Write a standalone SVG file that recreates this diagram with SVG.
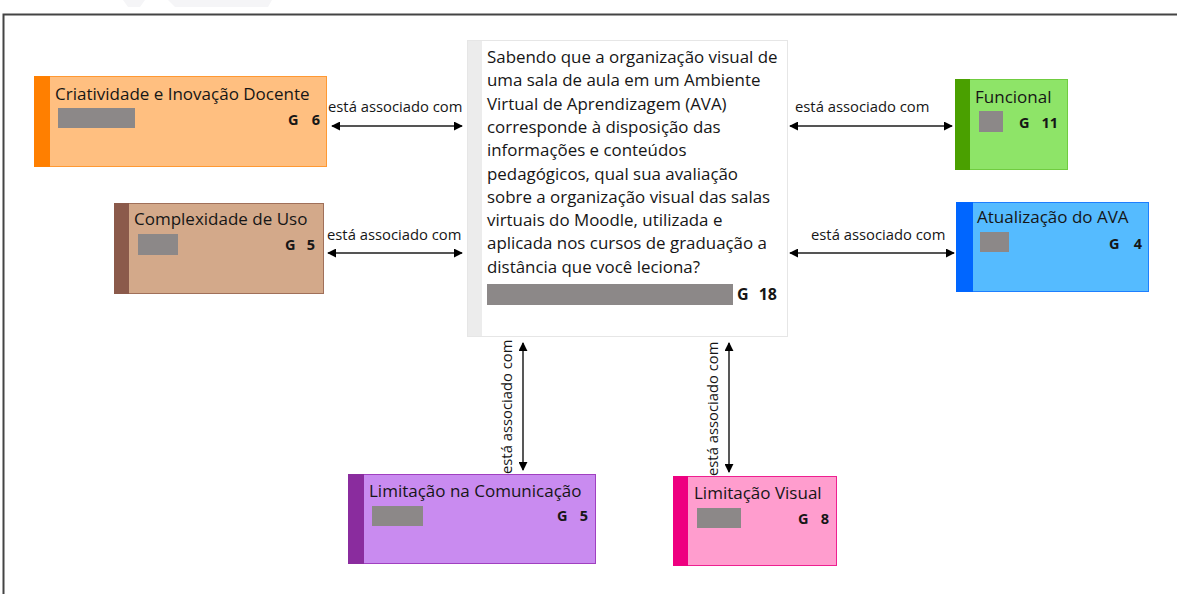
<svg xmlns="http://www.w3.org/2000/svg" width="1177" height="594" viewBox="0 0 1177 594">
<style>
.t{font-family:"Open Sans","Liberation Sans",sans-serif;fill:#161616}
.title{font-size:17px}
.g{font-size:14.5px;font-weight:bold}
.ge{font-size:14.5px;font-weight:bold;text-anchor:end}
.lbl{font-size:14.8px}
.ctr{font-size:16.9px}
.bar{fill:#8c8888}
.conn{stroke:#555;stroke-width:2;fill:none}
.vconn{stroke:#111;stroke-width:1.4;fill:none}
</style>
<defs>
<marker id="ah" viewBox="0 0 10 10" refX="9" refY="5" markerWidth="9" markerHeight="9" markerUnits="userSpaceOnUse" orient="auto-start-reverse">
<path d="M0,0 L10,5 L0,10 z" fill="#000"/>
</marker>
</defs>
<rect width="1177" height="594" fill="#fff"/>
<polygon points="123,0 145,0 140,7 128,7" fill="#f5f5f7"/>
<polygon points="168,0 272,0 268,7 175,7" fill="#f5f5f7"/>
<path d="M3.5,594 V14.5 H1177" fill="none" stroke="#444" stroke-width="2"/>

<g id="connectors">
<line class="conn" x1="332" y1="126" x2="462" y2="126" marker-start="url(#ah)" marker-end="url(#ah)"/>
<text class="t lbl" x="328" y="112">está associado com</text>
<line class="conn" x1="328" y1="253" x2="462" y2="253" marker-start="url(#ah)" marker-end="url(#ah)"/>
<text class="t lbl" x="327" y="240">está associado com</text>
<line class="conn" x1="790" y1="126" x2="952" y2="126" marker-start="url(#ah)" marker-end="url(#ah)"/>
<text class="t lbl" x="795" y="112">está associado com</text>
<line class="conn" x1="790" y1="253" x2="954" y2="253" marker-start="url(#ah)" marker-end="url(#ah)"/>
<text class="t lbl" x="811" y="240">está associado com</text>
<line class="vconn" x1="523" y1="343" x2="523" y2="470" marker-start="url(#ah)" marker-end="url(#ah)"/>
<text class="t lbl" transform="translate(512,474) rotate(-90)">está associado com</text>
<line class="vconn" x1="729" y1="343" x2="729" y2="472" marker-start="url(#ah)" marker-end="url(#ah)"/>
<text class="t lbl" transform="translate(718,476) rotate(-90)">está associado com</text>
</g>

<g id="node-center">
<rect x="467.5" y="40.5" width="320" height="296" fill="#fff" stroke="#e6e6e6"/>
<rect x="468" y="41" width="14" height="295" fill="#ececec"/>
<text class="t ctr">
<tspan x="487" y="63">Sabendo que a organização visual de</tspan>
<tspan x="487" y="86.3">uma sala de aula em um Ambiente</tspan>
<tspan x="487" y="109.6">Virtual de Aprendizagem (AVA)</tspan>
<tspan x="487" y="132.9">corresponde à disposição das</tspan>
<tspan x="487" y="156.2">informações e conteúdos</tspan>
<tspan x="487" y="179.5">pedagógicos, qual sua avaliação</tspan>
<tspan x="487" y="202.8">sobre a organização visual das salas</tspan>
<tspan x="487" y="226.1">virtuais do Moodle, utilizada e</tspan>
<tspan x="487" y="249.4">aplicada nos cursos de graduação a</tspan>
<tspan x="487" y="272.7">distância que você leciona?</tspan>
</text>
<rect class="bar" x="487" y="284" width="246" height="21"/>
<text class="t g" x="737" y="300" style="font-size:16px">G</text>
<text class="t ge" x="777" y="300" style="font-size:16px">18</text>
</g>

<g id="node-criatividade">
<rect x="34.5" y="76.5" width="292" height="90" fill="#ffbf80" stroke="#ff9933"/>
<rect x="34" y="76" width="16" height="91" fill="#ff7f00"/>
<text class="t title" x="55" y="100">Criatividade e Inovação Docente</text>
<rect class="bar" x="58" y="108" width="77" height="20"/>
<text class="t g" x="288" y="125">G</text>
<text class="t ge" x="320" y="125">6</text>
</g>

<g id="node-complexidade">
<rect x="114.5" y="203.5" width="209" height="90" fill="#d3a98a" stroke="#a0705a"/>
<rect x="114" y="203" width="15" height="91" fill="#8b5a4b"/>
<text class="t title" x="134" y="225">Complexidade de Uso</text>
<rect class="bar" x="138" y="234" width="40" height="21"/>
<text class="t g" x="285" y="250">G</text>
<text class="t ge" x="315" y="250">5</text>
</g>

<g id="node-funcional">
<rect x="955.5" y="79.5" width="112" height="90" fill="#8ee468" stroke="#70cc40"/>
<rect x="955" y="79" width="15" height="91" fill="#4aa000"/>
<text class="t title" x="975" y="103">Funcional</text>
<rect class="bar" x="979" y="111" width="24" height="21"/>
<text class="t g" x="1019" y="128">G</text>
<text class="t ge" x="1058" y="128">11</text>
</g>

<g id="node-atualizacao">
<rect x="956.5" y="202.5" width="192" height="89" fill="#55bbff" stroke="#1e7fff"/>
<rect x="956" y="202" width="17" height="90" fill="#0066ff"/>
<text class="t title" x="977" y="223">Atualização do AVA</text>
<rect class="bar" x="980" y="232" width="29" height="20"/>
<text class="t g" x="1109" y="249">G</text>
<text class="t ge" x="1142" y="249">4</text>
</g>

<g id="node-comunicacao">
<rect x="348.5" y="474.5" width="247" height="89" fill="#c98bf0" stroke="#a040c0"/>
<rect x="348" y="474" width="16" height="90" fill="#8a2c9e"/>
<text class="t title" x="369" y="497">Limitação na Comunicação</text>
<rect class="bar" x="372" y="506" width="51" height="20"/>
<text class="t g" x="557" y="521">G</text>
<text class="t ge" x="588" y="521">5</text>
</g>

<g id="node-visual">
<rect x="673.5" y="476.5" width="163" height="89" fill="#ff9dce" stroke="#ee2090"/>
<rect x="673" y="476" width="15" height="90" fill="#ee0080"/>
<text class="t title" x="694" y="499">Limitação Visual</text>
<rect class="bar" x="697" y="508" width="44" height="20"/>
<text class="t g" x="798" y="524">G</text>
<text class="t ge" x="829" y="524">8</text>
</g>
</svg>
